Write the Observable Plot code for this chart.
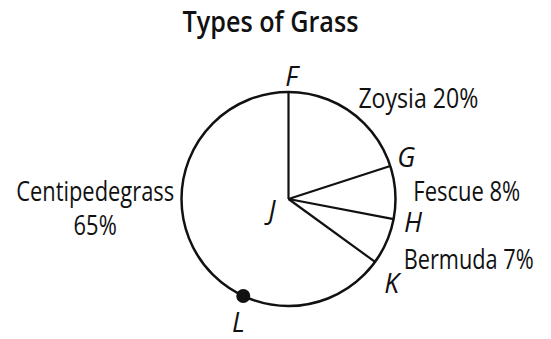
<!DOCTYPE html>
<html><head><meta charset="utf-8">
<script src="https://cdn.jsdelivr.net/npm/d3@7"></script>
<script src="https://cdn.jsdelivr.net/npm/@observablehq/plot@0.6"></script>
<style>html,body{margin:0;padding:0;background:#fff}</style>
</head><body><div id="chart"></div>
<script>
// ---- data ----
const title = "Types of Grass";
const categories = ["Zoysia", "Fescue", "Bermuda", "Centipedegrass"];
const percents = [20, 8, 7, 65];
const boundaryLetters = ["F", "G", "H", "K"];
const centerLetter = "J";
const pointLetter = "L";
const pointAngleDeg = 205;

// ---- layout / style ----
const W = 551, H = 339, CX = 288, CY = 198.5, R = 107;
const FONT = "'Open Sans','Noto Sans',sans-serif";
const FS = 26.5;
const labelLayout = [
  {dx: 7, dy: -4.6, anchor: "start", sep: " "},
  {dx: 18, dy: 9, anchor: "start", sep: " "},
  {dx: 17, dy: 28, anchor: "start", sep: " "},
  {dx: -98, dy: -13, anchor: "middle", sep: "\n"}
];
const letterLayout = [
  {dx: 3, dy: -6.5}, {dx: 16, dy: 0.6}, {dx: 19.5, dy: 13.4}, {dx: 16.5, dy: 31.6}
];
const centerLayout = {dx: -16.5, dy: 20.5};
const pointLayout = {dx: -5, dy: 35.8};
// rendered widths of the condensed type, px
const textWidths = {"Types of Grass": 176, "Zoysia 20%": 120, "Fescue 8%": 107, "Bermuda 7%": 130, "Centipedegrass": 158};

// ---- derived ----
const rad = a => a * Math.PI / 180;
const cum = d3.cumsum(percents);
const slices = categories.map((c, i) => ({
  name: c, pct: percents[i],
  start: (cum[i] - percents[i]) * 3.6,
  mid: (cum[i] - percents[i] / 2) * 3.6,
  letter: boundaryLetters[i],
  lab: labelLayout[i], let: letterLayout[i]
}));
const px = a => R * Math.sin(rad(a));
const py = a => R * Math.cos(rad(a));

const marks = [
  Plot.dot([0], {x: 0, y: 0, r: R, stroke: "#111", strokeWidth: 2.5, fill: "none"}),
  Plot.link(slices, {x1: 0, y1: 0, x2: d => px(d.start), y2: d => py(d.start), stroke: "#111", strokeWidth: 2.2}),
  Plot.dot([pointAngleDeg], {x: d => px(d), y: d => py(d), r: 7, fill: "#111", stroke: "none"}),
  Plot.text([title], {frameAnchor: "top", dx: -5.5, dy: 31, lineAnchor: "bottom", fontFamily: FONT, fontSize: 28.5, fontWeight: 600, fill: "#111"})
];
slices.forEach(d => {
  marks.push(Plot.text([d], {x: px(d.mid), y: py(d.mid), text: d => `${d.name}${d.lab.sep}${d.pct}%`,
    dx: d.lab.dx, dy: d.lab.dy, textAnchor: d.lab.anchor, lineAnchor: "bottom", lineHeight: 1.26,
    fontFamily: FONT, fontSize: FS, fill: "#111"}));
  marks.push(Plot.text([d], {x: px(d.start), y: py(d.start), text: d => d.letter,
    dx: d.let.dx, dy: d.let.dy, textAnchor: "middle", lineAnchor: "bottom",
    fontFamily: FONT, fontSize: FS, fontStyle: "italic", fill: "#111"}));
});
marks.push(Plot.text([centerLetter], {x: 0, y: 0, text: d => d, dx: centerLayout.dx, dy: centerLayout.dy,
  textAnchor: "middle", lineAnchor: "bottom", fontFamily: FONT, fontSize: FS, fontStyle: "italic", fill: "#111"}));
marks.push(Plot.text([pointLetter], {x: px(pointAngleDeg), y: py(pointAngleDeg), text: d => d, dx: pointLayout.dx, dy: pointLayout.dy,
  textAnchor: "middle", lineAnchor: "bottom", fontFamily: FONT, fontSize: FS, fontStyle: "italic", fill: "#111"}));

const chart = Plot.plot({
  width: W, height: H, margin: 0,
  x: {domain: [-CX, W - CX], range: [0, W], axis: null},
  y: {domain: [-(H - CY), CY], range: [H, 0], axis: null},
  style: {background: "#fff", overflow: "visible"},
  marks
});
document.getElementById("chart").appendChild(chart);
// condense the type to the reference widths (horizontal scale about each text's anchor)
d3.select(chart).selectAll("text").each(function () {
  const lines = this.querySelector("tspan") ? Array.from(this.querySelectorAll("tspan")) : [this];
  let sx = null;
  for (const el of lines) {
    const w = textWidths[el.textContent];
    if (w) { sx = w / el.getComputedTextLength(); break; }
  }
  if (sx) {
    const t = this.getAttribute("transform") || "";
    this.setAttribute("transform", `${t} scale(${sx},1)`.trim());
  }
});
</script>
</body></html>
